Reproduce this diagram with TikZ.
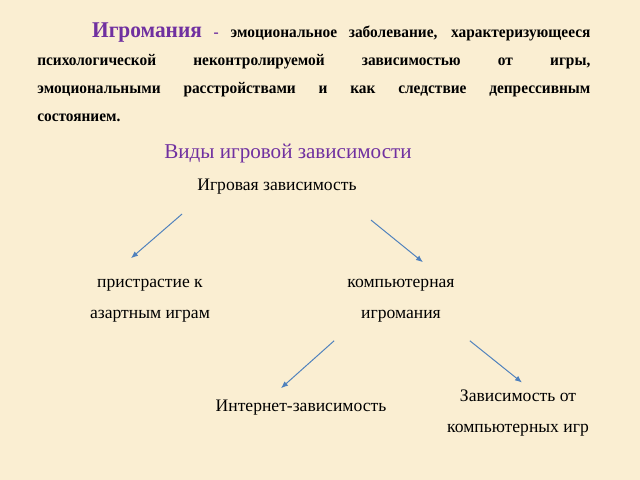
\documentclass[tikz,border=0pt]{standalone}
\usepackage{fontspec}
\setmainfont{Liberation Serif}
\newfontfamily\defnfont[FakeStretch=0.95]{Liberation Serif}
\usetikzlibrary{calc,arrows.meta}

\definecolor{paper}{RGB}{250,238,210}
\definecolor{violet}{RGB}{112,48,160}
\definecolor{arrowblue}{RGB}{79,129,189}

\begin{document}
\begin{tikzpicture}[
x=0.025cm, y=-0.025cm,
label/.style={inner sep=0, align=center, font=\fontsize{12.5}{22}\selectfont},
arr/.style={draw=arrowblue, line width=0.7pt, -{Latex[length=5pt,width=4pt]}}
]
\fill[paper] (0,0) rectangle (640,480);
\node[inner sep=0, anchor=north west, text width=13.825cm, align=justify,
      font=\defnfont\fontsize{11.5}{20}\selectfont\bfseries] (defn) at (37,22) {%
    \hspace*{39pt}{\fontsize{16}{20}\selectfont\color{violet}Игромания} {\color{violet}-} эмоциональное заболевание, характеризующееся\linebreak
    психологической неконтролируемой зависимостью от игры,\linebreak
    эмоциональными расстройствами и как следствие депрессивным\linebreak
    состоянием.};
\node[inner sep=0, anchor=base, text=violet, font=\fontsize{15}{18}\selectfont] (title) at (288,158) {Виды игровой зависимости};
\node[label, anchor=base] (root) at (277,190) {Игровая зависимость};
\node[label] (gambling) at (150,301) {пристрастие к\\азартным играм};
\node[label] (computer) at (401,301) {компьютерная\\игромания};
\node[label, anchor=base] (internet) at (301,411) {Интернет-зависимость};
\node[label] (games) at (518,413) {Зависимость от\\компьютерных игр};
\draw[arr] ($(root.south west)+(-15,20)$) -- ($(gambling.north)+(-19,-21)$);
\draw[arr] ($(root.south east)+(14,26)$) -- ($(computer.north)+(22,-17)$);
\draw[arr] ($(computer.south west)+(-13,18)$) -- ($(internet.north)+(-20,-11)$);
\draw[arr] ($(computer.south east)+(15,18)$) -- ($(games.north)+(4,-7)$);
\end{tikzpicture}
\end{document}
